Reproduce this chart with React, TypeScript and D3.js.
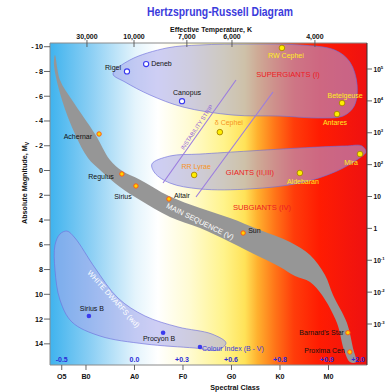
import React from 'react';
import * as d3 from 'd3';

// Spectral index: O0=0, B0=10, A0=20, F0=30, G0=40, K0=50, M0=60
const spectralClasses = ['O5', 'B0', 'A0', 'F0', 'G0', 'K0', 'M0'];
const spectralIndex = [5, 10, 20, 30, 40, 50, 60];
const colourIndexLabels = ['-0.5', '0.0', '+0.3', '+0.6', '+0.8', '+0.9', '+2.0'];
const colourIndexPos = [5, 20, 29.8, 39.9, 50, 59.7, 66.1];
const temperatureLabels = ['30,000', '10,000', '7,000', '6,000', '4,000'];
const temperaturePos = [10.2, 19.9, 30.8, 40.1, 57.2];
const magnitudeTicks = [-10, -8, -6, -4, -2, 0, 2, 4, 6, 8, 10, 12, 14];
const luminosityExponents = [5, 4, 3, 2, 1, 0, -1, -2, -3];

// Stars: name, kind, spectral index, absolute magnitude
const starNames = ['Rigel', 'Deneb', 'Canopus', 'RW Cephei', 'Betelgeuse', 'Antares', 'δ Cephei', 'Mira', 'Aldebaran', 'RR Lyrae', 'Achernar', 'Regulus', 'Sirius', 'Altair', 'Sun', "Barnard's Star", 'Proxima Cen', 'Sirius B', 'Procyon B', ''];
const starKind = ['sg', 'sg', 'sg', 'y', 'y', 'y', 'y', 'y', 'y', 'y', 'ms', 'ms', 'ms', 'ms', 'ms', 'ms', 'ms', 'wd', 'wd', 'wd'];
const starSpectral = [18.45, 22.4, 29.8, 50.4, 62.8, 61.75, 37.6, 66.5, 54.1, 32.3, 12.7, 17.4, 20.3, 27.1, 42.4, 64.0, 64.4, 10.6, 25.9, 33.5];
const starMagnitude = [-8.0, -8.6, -5.6, -9.9, -5.45, -4.56, -3.1, -1.33, 0.2, 0.36, -2.95, 0.28, 1.25, 2.3, 5.05, 13.1, 14.66, 11.75, 13.1, 14.26];

// Region outlines in (spectral index, magnitude)
const mainSequence: [number, number][] = [
  [3.61, -9.33], [4.64, -7.31], [7.11, -5.7], [11.86, -2.95], [14.95, -0.85], [17.42, 0.02], [21.13, 0.74],
  [27.11, 2.06], [33.51, 3.03], [39.69, 3.84], [45.88, 4.81], [52.06, 5.77], [56.19, 6.82], [59.28, 8.44],
  [60.93, 10.06], [63.81, 12.32], [65.05, 14.34], [65.67, 15.47], [64.43, 15.47], [63.2, 14.5], [61.75, 12.32],
  [58.66, 10.06], [56.19, 9.0], [53.09, 8.52], [50.0, 7.79], [45.88, 6.99], [39.69, 5.77], [33.51, 4.64],
  [27.32, 3.75], [21.13, 2.38], [17.01, 1.33], [12.89, -0.04], [10.41, -1.01], [7.73, -2.95], [5.05, -5.7], [3.4, -8.52],
];
const supergiants: [number, number][] = [
  [15.57, -7.8], [19.07, -8.93], [26.7, -9.9], [33.5, -10.14], [43.8, -10.22], [54.1, -10.14], [61.3, -9.73],
  [64.4, -8.77], [65.9, -6.91], [65.3, -5.21], [63.0, -4.4], [58.2, -4.24], [50.0, -4.4], [40.3, -4.48],
  [30.0, -5.13], [23.2, -6.1], [18.04, -7.15],
];
const giants: [number, number][] = [
  [23.6, -0.53], [27.3, -1.17], [33.5, -1.33], [43.8, -1.58], [54.1, -1.82], [63.4, -1.98], [66.9, -1.98],
  [67.7, -1.5], [66.1, -0.93], [61.3, 0.12], [54.1, 1.01], [43.8, 1.49], [33.5, 1.49], [27.3, 1.01], [24.2, 0.2],
];
const whiteDwarfs: [number, number][] = [
  [4.64, 5.13], [6.08, 4.89], [7.73, 5.45], [11.86, 7.87], [16.6, 10.3], [22.16, 11.75], [28.97, 12.64],
  [35.98, 13.21], [38.87, 13.93], [37.22, 14.5], [32.47, 14.34], [22.16, 14.01], [12.89, 13.37], [7.11, 12.24],
  [4.64, 10.46], [3.61, 8.04], [3.61, 6.02],
];
const instabilityLines: [number, number][][] = [
  [[40.93, -7.31], [25.88, 1.01]],
  [[48.56, -6.34], [32.68, 2.14]],
];

// label placement (style, not data)
const labelStyle: Record<string, { dx: number; dy: number; a: string; c: string }> = {
  'Rigel': { dx: -6, dy: -1.5, a: 'end', c: '#111' },
  'Deneb': { dx: 5, dy: 2, a: 'start', c: '#111' },
  'Canopus': { dx: 5, dy: -6, a: 'middle', c: '#111' },
  'RW Cephei': { dx: 4, dy: 10, a: 'middle', c: '#ffee22' },
  'Betelgeuse': { dx: 3, dy: -5.5, a: 'middle', c: '#ffee22' },
  'Antares': { dx: -2, dy: 10.5, a: 'middle', c: '#ffee22' },
  'δ Cephei': { dx: 9, dy: -7.5, a: 'middle', c: '#f7941d' },
  'Mira': { dx: -9, dy: 10.5, a: 'middle', c: '#ffee22' },
  'Aldebaran': { dx: 3, dy: 11.5, a: 'middle', c: '#ffee22' },
  'RR Lyrae': { dx: 2, dy: -6, a: 'middle', c: '#f7941d' },
  'Achernar': { dx: -7, dy: 5, a: 'end', c: '#111' },
  'Regulus': { dx: -8, dy: 5.5, a: 'end', c: '#111' },
  'Sirius': { dx: -13, dy: 13.5, a: 'middle', c: '#111' },
  'Altair': { dx: 5, dy: -0.5, a: 'start', c: '#111' },
  'Sun': { dx: 5, dy: 0, a: 'start', c: '#111' },
  "Barnard's Star": { dx: -4, dy: 2.5, a: 'end', c: '#111' },
  'Proxima Cen': { dx: -5, dy: 1, a: 'end', c: '#111' },
  'Sirius B': { dx: 3, dy: -4.5, a: 'middle', c: '#111' },
  'Procyon B': { dx: -4, dy: 8.5, a: 'middle', c: '#111' },
};

const W = 385, H = 392;
const L = 50, R = 367, T = 43, B = 365;
const FONT = '"Liberation Sans", Arial, sans-serif';

export default function App() {
  const x = d3.scaleLinear().domain([2.58, 67.94]).range([L, R]);
  const y = d3.scaleLinear().domain([-10.3, 15.71]).range([T, B]);
  const yL = d3.scaleLog().domain([1e5, 1e-3]).range([69, 324]);
  const closed = d3.line<[number, number]>().x(d => x(d[0])).y(d => y(d[1])).curve(d3.curveCatmullRomClosed.alpha(0.5));
  const seg = d3.line<[number, number]>().x(d => x(d[0])).y(d => y(d[1]));

  const stops: [number, string][] = [
    [0, '#3fb3ee'], [0.13, '#8ccff4'], [0.27, '#e4f4fc'], [0.34, '#ffffff'], [0.44, '#fffbd2'],
    [0.55, '#fff38a'], [0.615, '#ffe258'], [0.655, '#ffb02e'], [0.71, '#ff7418'], [0.77, '#ff3c0a'],
    [0.85, '#ff1c02'], [1, '#ee1111'],
  ];
  const blobFill = 'rgba(165,165,235,0.55)';
  const blobStroke = 'rgba(110,110,220,0.8)';

  return (
    <svg width={W} height={H} style={{ position: 'absolute', left: 0, top: 0, fontFamily: FONT }}>
      <defs>
        <linearGradient id="bg" gradientUnits="userSpaceOnUse" x1={L} x2={R} y1={0} y2={0}>
          {stops.map((s, i) => <stop key={i} offset={s[0]} stopColor={s[1]} />)}
        </linearGradient>
        <clipPath id="plot"><rect x={L} y={T} width={R - L} height={B - T} /></clipPath>
      </defs>
      <rect width={W} height={H} fill="#fff" />
      <rect x={L} y={T} width={R - L} height={B - T} fill="url(#bg)" />
      <g clipPath="url(#plot)">
        <path d={closed(supergiants) || ''} fill={blobFill} stroke={blobStroke} strokeWidth={0.8} />
        <path d={closed(giants) || ''} fill={blobFill} stroke={blobStroke} strokeWidth={0.8} />
        <path d={closed(whiteDwarfs) || ''} fill={blobFill} stroke={blobStroke} strokeWidth={0.8} />
        <path d={closed(mainSequence) || ''} fill="#969696" />
        {instabilityLines.map((l, i) => <path key={i} d={seg(l) || ''} stroke="#9b7be0" strokeWidth={1.1} fill="none" />)}
      </g>

      {/* region labels */}
      <text x={x(51.65)} y={y(-7.55)} textAnchor="middle" fontSize={7.6} fill="#ed1c24">SUPERGIANTS (I)</text>
      <text x={x(43.8)} y={y(0.36)} textAnchor="middle" fontSize={7.6} fill="#ed1c24">GIANTS (II,III)</text>
      <text x={x(46.3)} y={y(3.19)} textAnchor="middle" fontSize={7.6} fill="#ed1c24">SUBGIANTS (IV)</text>
      <text transform={`translate(${x(33.3)},${y(4.3)}) rotate(26)`} textAnchor="middle" fontSize={7.4} fill="#fff">MAIN SEQUENCE (V)</text>
      <text transform={`translate(${x(15.3)},${y(10.5)}) rotate(48)`} textAnchor="middle" fontSize={7.4} fill="#fff">WHITE DWARFS (wd)</text>
      <text transform={`translate(${x(33.2)},${y(-3.4)}) rotate(-56)`} textAnchor="middle" fontSize={5.8} fill="#9060d8">INSTABILITY STRIP</text>

      {/* stars */}
      {starNames.map((n, i) => {
        const cx = x(starSpectral[i]), cy = y(starMagnitude[i]);
        const k = starKind[i];
        let mark;
        if (k === 'sg') mark = <circle cx={cx} cy={cy} r={2.6} fill="#fff" stroke="#3838ee" strokeWidth={1.1} />;
        else if (k === 'y') mark = <circle cx={cx} cy={cy} r={2.8} fill="#ffee00" stroke="#a88400" strokeWidth={0.9} />;
        else if (k === 'ms') mark = <circle cx={cx} cy={cy} r={2.2} fill="#ffd400" stroke="#ff5a14" strokeWidth={1} />;
        else mark = <circle cx={cx} cy={cy} r={2.3} fill="#3a3aee" />;
        const s = labelStyle[n];
        return (
          <g key={i}>
            {mark}
            {n && s && <text x={cx + s.dx} y={cy + s.dy} textAnchor={s.a as any} fontSize={7} fill={s.c}>{n}</text>}
          </g>
        );
      })}

      {/* frame */}
      <line x1={L} x2={L} y1={T} y2={B} stroke="#8a8a8a" strokeWidth={1} />
      <line x1={L} x2={R} y1={T} y2={T} stroke="#8a8a8a" strokeWidth={1} />
      <line x1={L} x2={R} y1={B} y2={B} stroke="#8a8a8a" strokeWidth={1} />
      <line x1={R} x2={R} y1={T} y2={B} stroke="#333" strokeWidth={1} />

      {/* title */}
      <text x={220} y={15.5} textAnchor="middle" fontSize={12} fontWeight="bold" fill="#3b3bdc" textLength={146} lengthAdjust="spacingAndGlyphs">Hertzsprung-Russell Diagram</text>

      {/* top axis: temperature */}
      <text x={211} y={32} textAnchor="middle" fontSize={7} fontWeight="bold" fill="#111" textLength={82} lengthAdjust="spacingAndGlyphs">Effective Temperature, K</text>
      {temperatureLabels.map((t, i) => (
        <g key={t}>
          <line x1={x(temperaturePos[i])} x2={x(temperaturePos[i])} y1={40} y2={47} stroke="#555" strokeWidth={0.9} />
          <text x={x(temperaturePos[i])} y={39} textAnchor="middle" fontSize={7} fontWeight="bold" fill="#111">{t}</text>
        </g>
      ))}

      {/* left axis: magnitude */}
      {magnitudeTicks.map(m => (
        <g key={m}>
          <line x1={L - 6} x2={L} y1={y(m)} y2={y(m)} stroke="#555" strokeWidth={0.9} />
          <text x={L - 7} y={y(m) + 2.5} textAnchor="end" fontSize={7.2} fontWeight="bold" fill="#111">{m < 0 ? `-\u2009${-m}` : `${m}`}</text>
        </g>
      ))}
      <text transform={`translate(27,183) rotate(-90)`} textAnchor="middle" fontSize={7.2} fontWeight="bold" fill="#111">
        Absolute Magnitude, M<tspan fontSize={5} dy={1.5}>V</tspan>
      </text>

      {/* right axis: luminosity */}
      {luminosityExponents.map(e => (
        <g key={e}>
          <line x1={R} x2={R + 5} y1={yL(Math.pow(10, e))} y2={yL(Math.pow(10, e))} stroke="#555" strokeWidth={0.9} />
          <text x={R + 6.5} y={yL(Math.pow(10, e)) + 2.5} fontSize={6.6} fontWeight="bold" fill="#111">
            {e === 0 ? '1' : '10'}
            {e !== 0 && e !== 1 && <tspan fontSize={4.2} dy={-3}>{e}</tspan>}
          </text>
        </g>
      ))}

      {/* bottom axis: spectral class & colour index */}
      {spectralClasses.map((c, i) => (
        <g key={c}>
          <line x1={x(spectralIndex[i])} x2={x(spectralIndex[i])} y1={B} y2={B + 5} stroke="#555" strokeWidth={0.9} />
          <text x={x(spectralIndex[i])} y={379} textAnchor="middle" fontSize={7.2} fontWeight="bold" fill="#111">{c}</text>
        </g>
      ))}
      <text x={235} y={390} textAnchor="middle" fontSize={7.2} fontWeight="bold" fill="#111">Spectral Class</text>
      {colourIndexLabels.map((c, i) => (
        <text key={c} x={x(colourIndexPos[i])} y={361.5} textAnchor="middle" fontSize={7} fontWeight="bold" fill="#2b2bd8">{c}</text>
      ))}
      <text x={x(40.3)} y={351} textAnchor="middle" fontSize={7} fill="#3a3ad8">Colour Index (B - V)</text>
    </svg>
  );
}
